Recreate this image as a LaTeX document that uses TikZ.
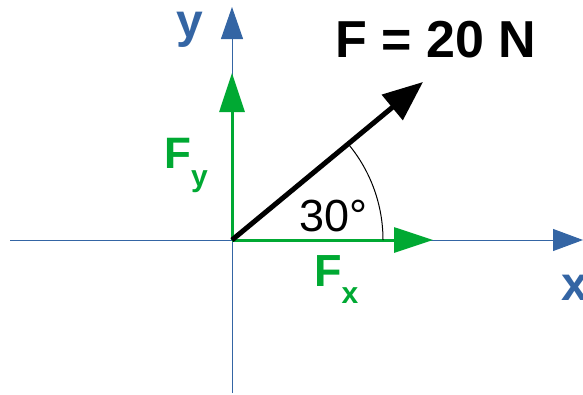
\documentclass[tikz,border=0pt]{standalone}
\usepackage{fontspec}
\setmainfont{Liberation Sans}
\usetikzlibrary{arrows.meta}
\definecolor{axis-blue}{HTML}{3465A4}
\definecolor{comp-green}{HTML}{00A933}

\begin{document}
\begin{tikzpicture}[x=1pt, y=-1pt, every node/.style={inner sep=0pt}]
  \useasboundingbox (0,0) rectangle (583,394);
  % axes
  \coordinate (O) at (232,240);
  \coordinate (xl) at (10,240);
  \coordinate (xr) at (583,240);
  \coordinate (yb) at (232,393);
  \coordinate (yt) at (232,7);
  \draw[color=axis-blue, line width=1pt, -{Triangle[length=30pt, width=22pt]}] (xl) -- (xr);
  \draw[color=axis-blue, line width=1pt, -{Triangle[length=32pt, width=22pt]}] (yb) -- (yt);
  \node[color=axis-blue, anchor=base west, font=\fontsize{48}{48}\selectfont\bfseries] (ylab) at (176,37) {y};
  \node[color=axis-blue, anchor=base west, font=\fontsize{48}{48}\selectfont\bfseries] (xlab) at (561,300) {x};
  % components
  \coordinate (fx) at (433,240);
  \coordinate (fy) at (232,73);
  \draw[color=comp-green, line width=3pt, -{Triangle[length=39pt, width=25pt]}] (O) -- (fx);
  \draw[color=comp-green, line width=3pt, -{Triangle[length=39pt, width=25pt]}] (O) -- (fy);
  \node[color=comp-green, anchor=base west, font=\fontsize{44}{44}\selectfont\bfseries] (fylab) at (164,168)
    {F\raisebox{-18pt}{\fontsize{30}{30}\selectfont y}};
  \node[color=comp-green, anchor=base west, font=\fontsize{45}{45}\selectfont\bfseries] (fxlab) at (314,286)
    {F\raisebox{-17pt}{\fontsize{30}{30}\selectfont x}};
  % force
  \coordinate (ft) at (423,82);
  \draw[line width=5pt, -{Triangle[length=40pt, width=32pt]}] (O) -- (ft);
  \node[anchor=base, font=\fontsize{52}{52}\selectfont\bfseries] (flab) at (436,57) {F = 20 N};
  % angle
  \draw[line width=1pt] (O) ++(151,0) arc[start angle=0, end angle=-39.6, radius=150];
  \node[anchor=base west, font=\fontsize{45}{45}\selectfont] (ang) at (299,231) {30°};
\end{tikzpicture}
\end{document}
